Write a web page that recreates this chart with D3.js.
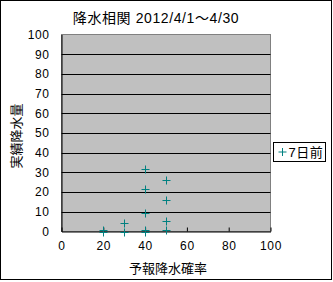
<!DOCTYPE html>
<html>
<head>
<meta charset="utf-8">
<script src="https://cdn.jsdelivr.net/npm/d3@7"></script>
<style>
  body { margin: 0; background: #fff; }
  text { font-family: "Liberation Sans", "Noto Sans CJK JP", sans-serif; }
</style>
</head>
<body>
<svg id="chart" width="333" height="282"></svg>
<script>
// forecast probability (%) vs observed precipitation (mm)
const probs = [20, 20, 30, 30, 40, 40, 40, 40, 40, 50, 50, 50, 50]
const amounts = [1, 0, 4.5, 0, 31.5, 21.5, 9.5, 1, 0, 26, 16, 5.5, 1]
const xTicks = [0, 20, 40, 60, 80, 100]
const yTicks = [0, 10, 20, 30, 40, 50, 60, 70, 80, 90, 100]
const seriesName = "7日前"

const svg = d3.select("#chart")
const plot = {left: 61.5, right: 270.5, top: 34.5, bottom: 231.5}
const teal = "#008080"

svg.append("rect")
    .attr("x", 0.5).attr("y", 0.5).attr("width", 331).attr("height", 279)
    .attr("fill", "#fff").attr("stroke", "#000")

let x = d3.scaleLinear().domain([0, 100]).range([plot.left, plot.right])
let y = d3.scaleLinear().domain([0, 100]).range([plot.bottom, plot.top])

svg.append("rect")
    .attr("x", plot.left).attr("y", plot.top)
    .attr("width", plot.right - plot.left).attr("height", plot.bottom - plot.top)
    .attr("fill", "#c0c0c0").attr("stroke", "#808080")

// gridlines
svg.append("g")
    .selectAll("line")
    .data(yTicks.slice(1, -1))
    .enter().append("line")
    .attr("x1", plot.left).attr("x2", plot.right)
    .attr("y1", d => Math.round(y(d)) + 0.5).attr("y2", d => Math.round(y(d)) + 0.5)
    .attr("stroke", "#000")

// y axis
let yAxis = svg.append("g")
    .attr("transform", "translate(" + plot.left + ",0)")
    .call(d3.axisLeft(y).tickValues(yTicks).tickSize(0).tickPadding(12))
yAxis.select(".domain").attr("stroke", "#000")
yAxis.selectAll("text").style("font-size", "12px").style("letter-spacing", "0.6px").attr("fill", "#000")

// x axis, ticks pointing inward
let xAxis = svg.append("g")
    .attr("transform", "translate(0," + plot.bottom + ")")
    .call(d3.axisBottom(x).tickValues(xTicks).tickSizeInner(-4).tickSizeOuter(0).tickPadding(10))
xAxis.select(".domain").attr("stroke", "#000")
xAxis.selectAll("line").attr("stroke", "#000")
xAxis.selectAll("text").style("font-size", "12px").style("letter-spacing", "0.6px").attr("fill", "#000")

// markers
svg.append("g")
    .selectAll("path")
    .data(probs.map((p, i) => [p, amounts[i]]))
    .enter().append("path")
    .attr("d", "M-4,0H4M0,-4V4")
    .attr("transform", d => "translate(" + (Math.round(x(d[0])) + 0.5) + "," + (Math.round(y(d[1])) + 0.5) + ")")
    .attr("stroke", teal).attr("fill", "none")

// title
svg.append("text")
    .attr("x", 156).attr("y", 23)
    .attr("text-anchor", "middle")
    .style("font-size", "14px")
    .style("letter-spacing", "0.6px")
    .text("降水相関 2012/4/1～4/30")

// axis titles
svg.append("text")
    .attr("x", 168).attr("y", 273)
    .attr("text-anchor", "middle")
    .style("font-size", "13px")
    .text("予報降水確率")

svg.append("text")
    .attr("transform", "translate(21,136) rotate(-90)")
    .attr("text-anchor", "middle")
    .style("font-size", "13px")
    .text("実績降水量")

// legend
let legend = svg.append("g").attr("transform", "translate(273.5,142.5)")
legend.append("rect")
    .attr("width", 52).attr("height", 19)
    .attr("fill", "#fff").attr("stroke", "#000")
legend.append("path")
    .attr("d", "M5,9.5H13M9,5.5V13.5")
    .attr("stroke", teal)
legend.append("text")
    .attr("x", 15).attr("y", 14.5)
    .style("font-size", "13px")
    .style("letter-spacing", "0.5px")
    .text(seriesName)
</script>
</body>
</html>
